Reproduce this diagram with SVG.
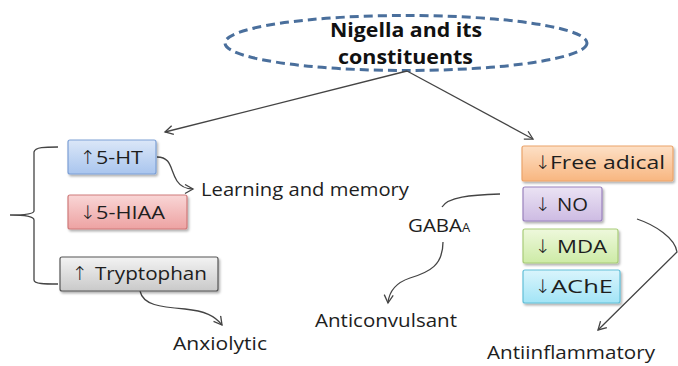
<svg xmlns="http://www.w3.org/2000/svg" width="678" height="366" viewBox="0 0 678 366">
<style>
.t{font-family:"Open Sans","Liberation Sans",sans-serif;font-size:18px;fill:#1e1e1e}
.b{font-family:"Open Sans","Liberation Sans",sans-serif;font-size:19px;font-weight:bold;fill:#111}
tspan.ar{font-family:"DejaVu Sans",sans-serif;font-size:19px;font-weight:200}
.c{fill:none;stroke:#444;stroke-width:1.3}
.box{stroke-width:1.2;filter:url(#sh)}
</style>
<defs>
<marker id="ah" markerWidth="12" markerHeight="12" refX="9" refY="5" orient="auto" markerUnits="userSpaceOnUse">
<path d="M1,0.5 L9,5 L1,9.5" fill="none" stroke="#444" stroke-width="1.3"/>
</marker>
<filter id="sh" x="-10%" y="-20%" width="130%" height="150%">
<feDropShadow dx="1.5" dy="2" stdDeviation="1.2" flood-color="#000" flood-opacity="0.3"/>
</filter>
<linearGradient id="gBlue" x1="0" y1="0" x2="0" y2="1"><stop offset="0" stop-color="#dbe7f8"/><stop offset="1" stop-color="#a9c5ee"/></linearGradient>
<linearGradient id="gRed" x1="0" y1="0" x2="0" y2="1"><stop offset="0" stop-color="#f9d6d6"/><stop offset="1" stop-color="#eda2a2"/></linearGradient>
<linearGradient id="gGrey" x1="0" y1="0" x2="0" y2="1"><stop offset="0" stop-color="#f3f3f3"/><stop offset="1" stop-color="#c9c9c9"/></linearGradient>
<linearGradient id="gOr" x1="0" y1="0" x2="0" y2="1"><stop offset="0" stop-color="#fde0c6"/><stop offset="1" stop-color="#f8b680"/></linearGradient>
<linearGradient id="gPu" x1="0" y1="0" x2="0" y2="1"><stop offset="0" stop-color="#ebe3f4"/><stop offset="1" stop-color="#cdbbe3"/></linearGradient>
<linearGradient id="gGr" x1="0" y1="0" x2="0" y2="1"><stop offset="0" stop-color="#eef8dc"/><stop offset="1" stop-color="#cdeba6"/></linearGradient>
<linearGradient id="gCy" x1="0" y1="0" x2="0" y2="1"><stop offset="0" stop-color="#daf5fc"/><stop offset="1" stop-color="#a2e4f6"/></linearGradient>
</defs>

<g id="nigella">
<ellipse cx="406" cy="43" rx="181" ry="27.5" fill="none" stroke="#4a6f9c" stroke-width="3" stroke-dasharray="9 5"/>
<text class="b" x="330" y="37" textLength="152" lengthAdjust="spacingAndGlyphs">Nigella and its</text>
<text class="b" x="338" y="64" textLength="135" lengthAdjust="spacingAndGlyphs">constituents</text>
</g>

<g id="connectors">
<path class="c" d="M407,71 L165,132" marker-end="url(#ah)"/>
<path class="c" d="M407,71 L533,139" marker-end="url(#ah)"/>
<path class="c" d="M157,157 C172,157 170,170 177,181 C181,187 186,189 193,189" marker-end="url(#ah)"/>
<path class="c" d="M140,291 C143,305 160,307 185,309 C205,311 215,316 222,325" marker-end="url(#ah)"/>
<path class="c" d="M442,207 C448,197 470,195 500,194"/>
<path class="c" d="M443,242 C443,265 430,272 410,278 C395,283 389,292 388,303" marker-end="url(#ah)"/>
<path class="c" d="M637,219 C655,225 675,238 677,252 L598,330" marker-end="url(#ah)"/>
<path class="c" d="M58,147 C45,147 35,147 34,152 L34,211 C34,214 22,215 10,215 C22,215 34,216 34,220 L34,280 C34,284 45,284 58,284"/>
</g>

<g id="n5ht">
<rect class="box" x="68" y="140" width="88" height="34" rx="2" fill="url(#gBlue)" stroke="#7c9fd5"/>
<text class="t" x="80" y="164"><tspan class="ar">↑</tspan><tspan x="96" textLength="47" lengthAdjust="spacingAndGlyphs">5-HT</tspan></text>
</g>
<g id="n5hiaa">
<rect class="box" x="68" y="195" width="119" height="34" rx="2" fill="url(#gRed)" stroke="#cf7a7a"/>
<text class="t" x="80" y="219"><tspan class="ar">↓</tspan><tspan x="96" textLength="69" lengthAdjust="spacingAndGlyphs">5-HIAA</tspan></text>
</g>
<g id="ntrp">
<rect class="box" x="60" y="257" width="158" height="34" rx="2" fill="url(#gGrey)" stroke="#555"/>
<text class="t" x="72" y="280"><tspan class="ar">↑</tspan><tspan x="95" textLength="112" lengthAdjust="spacingAndGlyphs">Tryptophan</tspan></text>
</g>
<g id="nlearn">
<text class="t" x="201" y="196" textLength="208" lengthAdjust="spacingAndGlyphs">Learning and memory</text>
</g>
<g id="nanx">
<text class="t" x="173" y="350" textLength="94" lengthAdjust="spacingAndGlyphs">Anxiolytic</text>
</g>
<g id="ngaba">
<text class="t" x="408" y="232"><tspan textLength="54" lengthAdjust="spacingAndGlyphs">GABA</tspan><tspan font-size="13">A</tspan></text>
</g>
<g id="nanticonv">
<text class="t" x="315" y="327" textLength="142" lengthAdjust="spacingAndGlyphs">Anticonvulsant</text>
</g>
<g id="nfree">
<rect class="box" x="522" y="146" width="151" height="35" rx="2" fill="url(#gOr)" stroke="#eba46a"/>
<text class="t" x="535" y="169"><tspan class="ar">↓</tspan><tspan x="550" textLength="115" lengthAdjust="spacingAndGlyphs">Free adical</tspan></text>
</g>
<g id="nno">
<rect class="box" x="523" y="187" width="79" height="34" rx="2" fill="url(#gPu)" stroke="#9a82bd"/>
<text class="t" x="535" y="211"><tspan class="ar">↓</tspan><tspan x="557" textLength="31" lengthAdjust="spacingAndGlyphs">NO</tspan></text>
</g>
<g id="nmda">
<rect class="box" x="523" y="229" width="95" height="34" rx="2" fill="url(#gGr)" stroke="#a8cc78"/>
<text class="t" x="535" y="253"><tspan class="ar">↓</tspan><tspan x="557" textLength="50" lengthAdjust="spacingAndGlyphs">MDA</tspan></text>
</g>
<g id="nache">
<rect class="box" x="523" y="270" width="97" height="33" rx="2" fill="url(#gCy)" stroke="#62bfd8"/>
<text class="t" x="535" y="293"><tspan class="ar">↓</tspan><tspan x="551" textLength="62" lengthAdjust="spacingAndGlyphs">AChE</tspan></text>
</g>
<g id="nanti">
<text class="t" x="487" y="359" textLength="168" lengthAdjust="spacingAndGlyphs">Antiinflammatory</text>
</g>
</svg>
